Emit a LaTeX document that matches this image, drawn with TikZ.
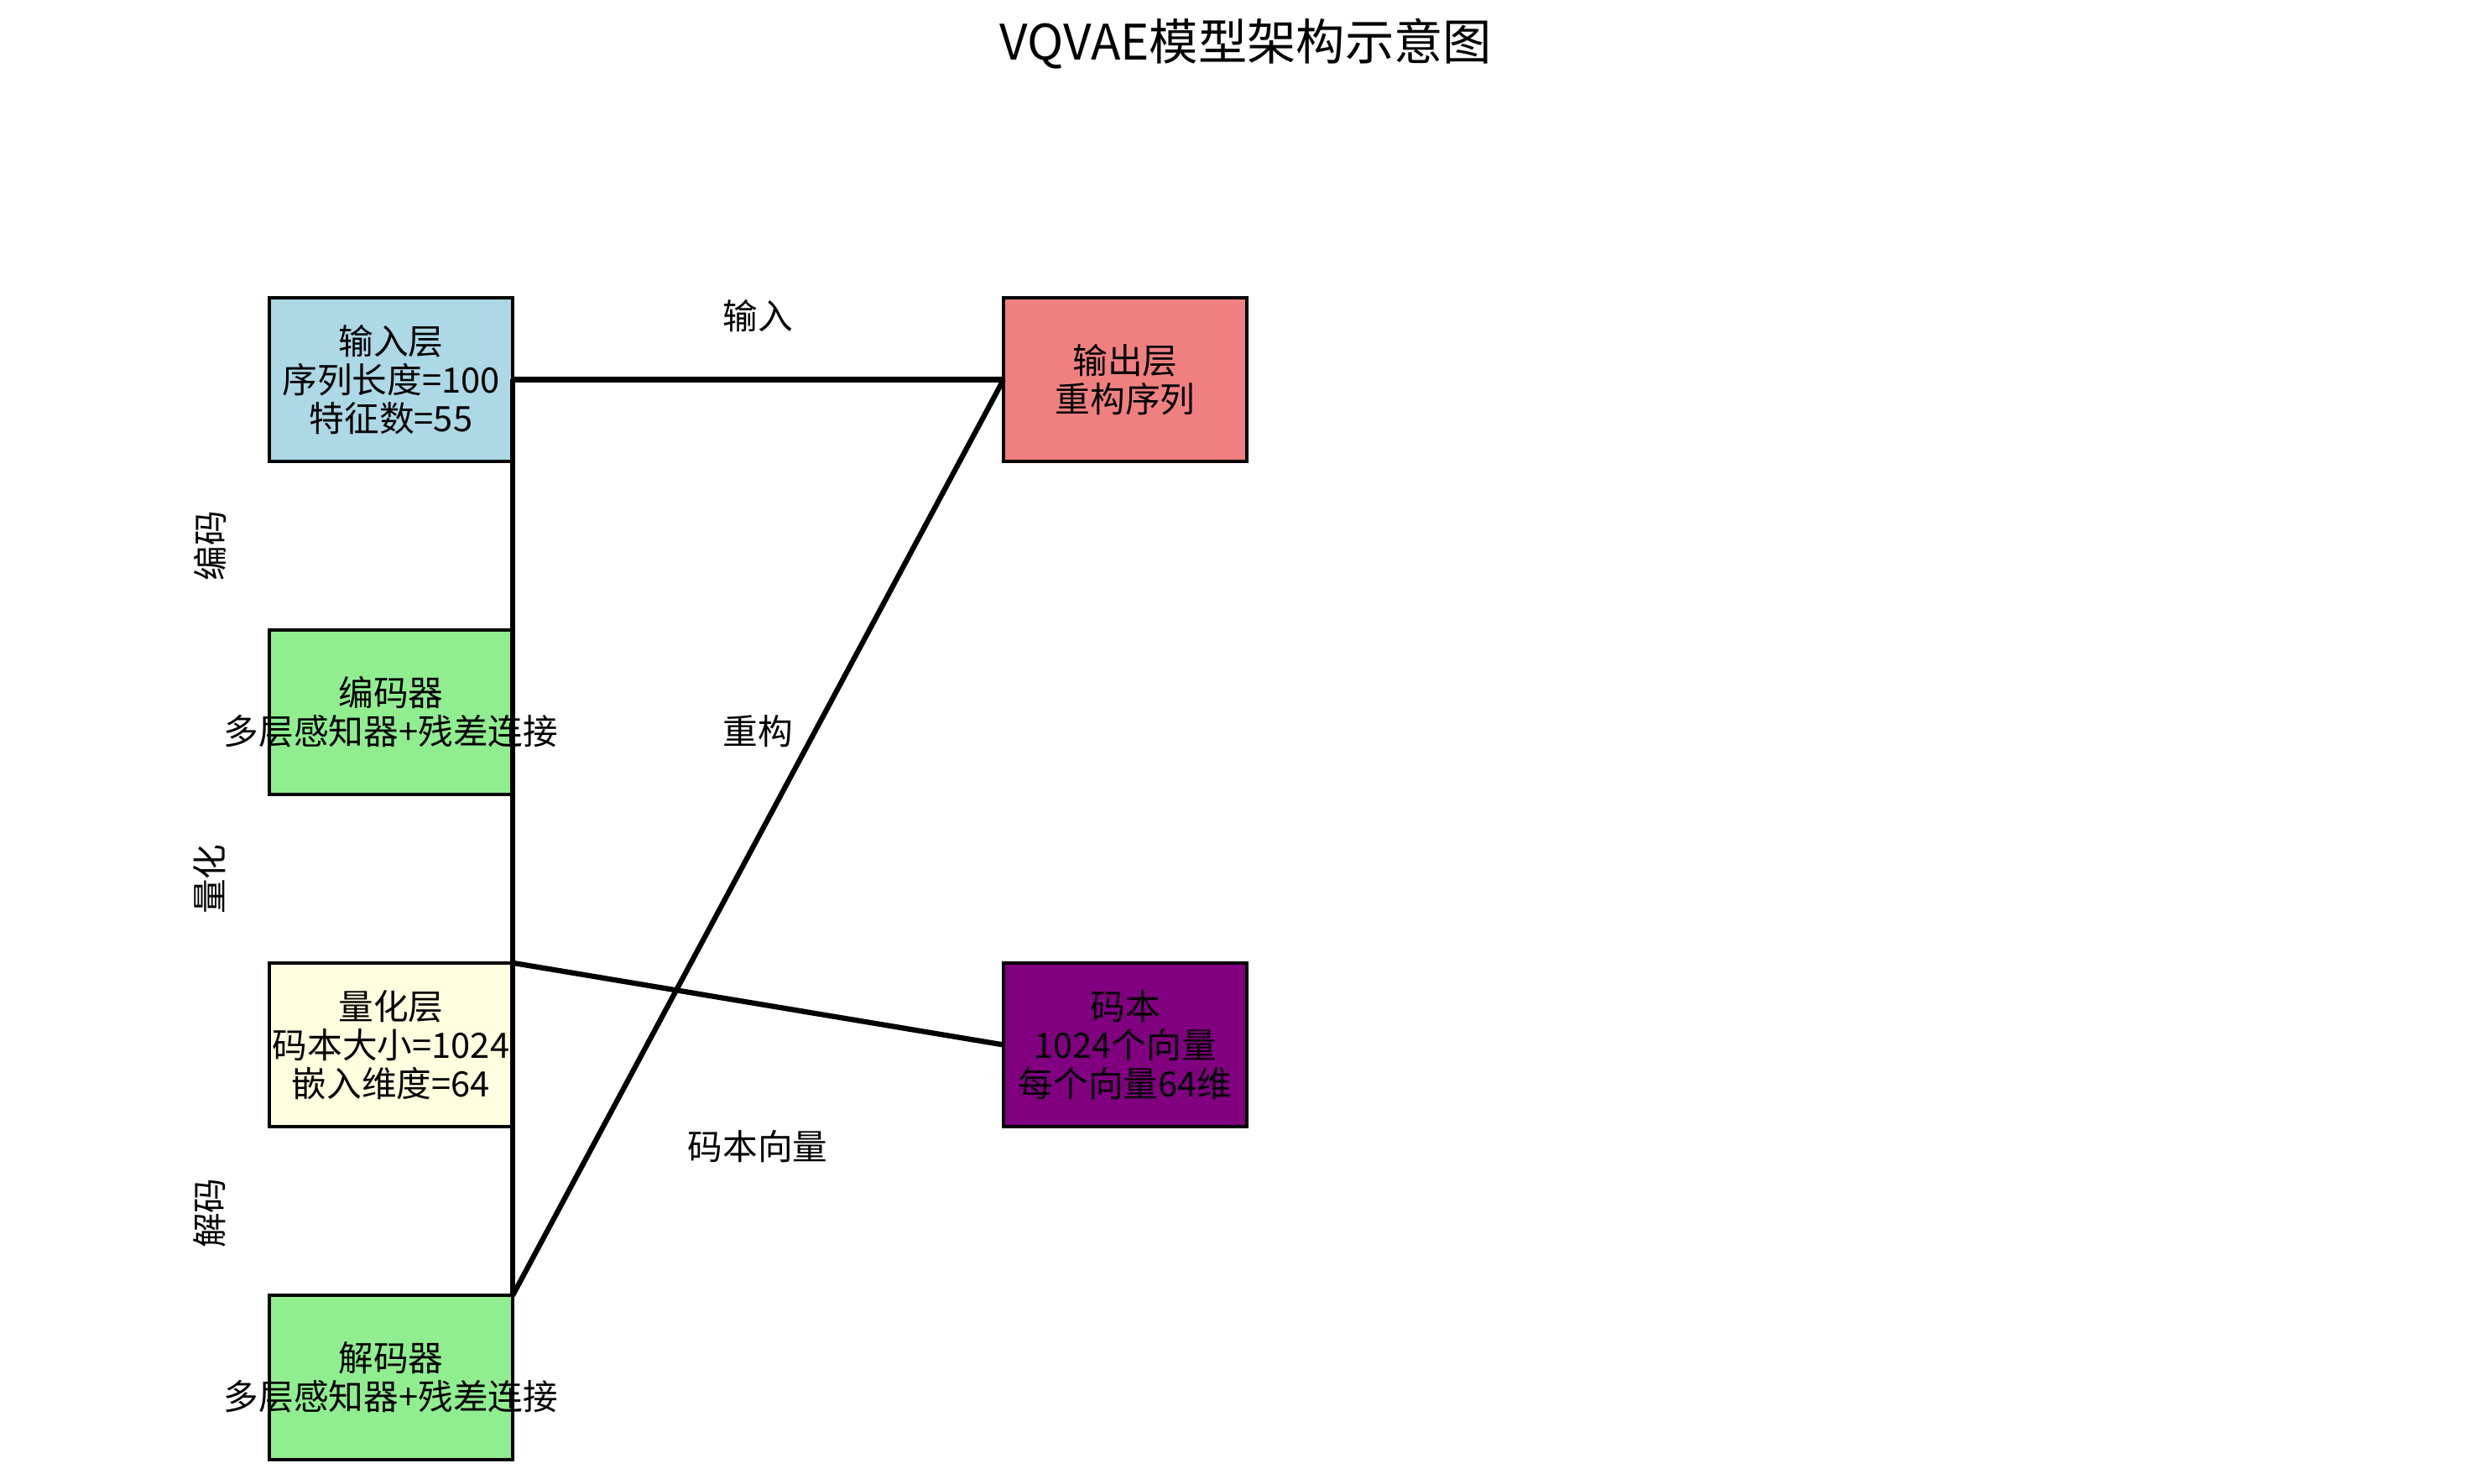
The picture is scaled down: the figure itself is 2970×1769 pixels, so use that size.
\documentclass[tikz,border=0pt]{standalone}
\usepackage{fontspec}
\setmainfont{Noto Sans CJK SC}
\definecolor{cLightBlue}{HTML}{ADD8E6}
\definecolor{cLightCoral}{HTML}{F08080}
\definecolor{cLightGreen}{HTML}{90EE90}
\definecolor{cLightYellow}{HTML}{FFFFE0}
\definecolor{cPurple}{HTML}{800080}
\begin{document}
\begin{tikzpicture}[x=0.24pt,y=-0.24pt,
  boxnode/.style={draw=black, line width=1pt, rectangle, outer sep=0pt, inner sep=0pt,
    minimum width=69.6pt, minimum height=46.9pt},
  boxtext/.style={align=center, inner sep=0pt, font=\fontsize{10}{11}\selectfont},
  plain/.style={inner sep=0pt, font=\fontsize{10}{12}\selectfont},
  conn/.style={draw=black, line width=1.5pt}]
\useasboundingbox (0,0) rectangle (2970,1769);
% title
\node[inner sep=0pt, font=\fontsize{14}{16}\selectfont] (title) at (1485,52) {VQVAE模型架构示意图};
% boxes
\node[boxnode, fill=cLightBlue] (in) at (466,452.5) {};
\node[boxnode, fill=cLightGreen] (enc) at (466,849) {};
\node[boxnode, fill=cLightYellow] (quant) at (466,1245.5) {};
\node[boxnode, fill=cLightGreen] (dec) at (466,1642) {};
\node[boxnode, fill=cLightCoral] (out) at (1341,452.5) {};
\node[boxnode, fill=cPurple] (cb) at (1341,1245.5) {};
% connectors
\draw[conn] (in.east) -- (out.west);
\draw[conn] (in.east) -- (enc.north east) -- (quant.north east) -- (dec.north east);
\draw[conn] (quant.north east) -- (cb.west);
\draw[conn] (dec.north east) -- (out.west);
% box texts
\node[boxtext] (in-t) at (in.center) {输入层\\序列长度=100\\特征数=55};
\node[boxtext] (enc-t) at (enc.center) {编码器\\多层感知器+残差连接};
\node[boxtext] (quant-t) at (quant.center) {量化层\\码本大小=1024\\嵌入维度=64};
\node[boxtext] (dec-t) at (dec.center) {解码器\\多层感知器+残差连接};
\node[boxtext] (out-t) at (out.center) {输出层\\重构序列};
\node[boxtext] (cb-t) at (cb.center) {码本\\1024个向量\\每个向量64维};
% side labels
\node[plain, rotate=90] (l-enc) at (250,651) {编码};
\node[plain, rotate=90] (l-quant) at (250,1048) {量化};
\node[plain, rotate=90] (l-dec) at (250,1446) {解码};
% middle labels
\node[plain] (m-in) at (903,377) {输入};
\node[plain] (m-rec) at (903,872) {重构};
\node[plain] (m-cb) at (903,1367) {码本向量};
\end{tikzpicture}
\end{document}
